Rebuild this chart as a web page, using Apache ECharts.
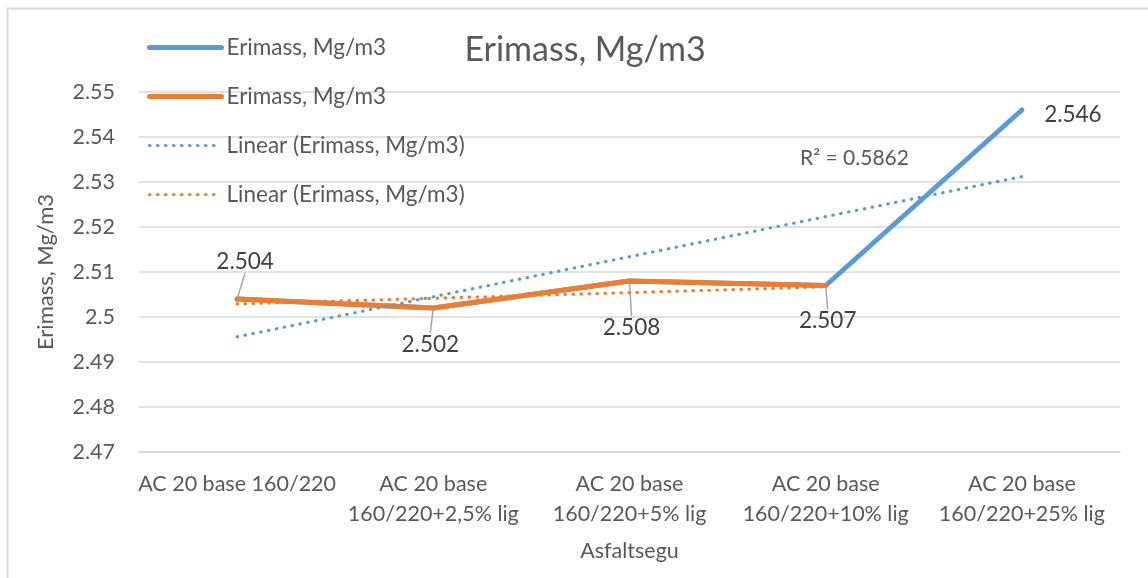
<!DOCTYPE html>
<html>
<head>
<meta charset="utf-8">
<title>Erimass, Mg/m3</title>
<script src="https://cdn.jsdelivr.net/npm/echarts@6/dist/echarts.min.js"></script>
<style>
  html, body { margin: 0; padding: 0; background: #fff; }
  #chart { width: 1148px; height: 578px; }
</style>
</head>
<body>
<div id="chart"></div>
<script>
// Mixture names (x-axis tick labels)
const categories = [
  'AC 20 base 160/220',
  'AC 20 base\n160/220+2,5% lig',
  'AC 20 base\n160/220+5% lig',
  'AC 20 base\n160/220+10% lig',
  'AC 20 base\n160/220+25% lig'
];
// Bulk density, Mg/m3
const densityAll = [2.504, 2.502, 2.508, 2.507, 2.546];
const densityLow = [2.504, 2.502, 2.508, 2.507];
// Linear trend end values (first and last category of each series)
const trendAll = [2.4956, 2.5312];
const trendLow = [2.5029, 2.5067];
const rSquaredText = 'R² = 0.5862';
// Y-axis range
const yMin = 2.47, yMax = 2.55, yStep = 0.01;

const FONT = 'Lato';
const TXT = '#595959';
const BLUE = '#5B9BD5';
const ORANGE = '#ED7D31';
const CLEAR = 'rgba(0,0,0,0)';
const seriesName = 'Erimass, Mg/m3';
const trendName = 'Linear (Erimass, Mg/m3)';

// Data label offsets (dx, dy) from the default 'top' placement
const labelOffsets = [[8, -25], [-3, 49], [2, 59], [2, 48], [51, 17]];
// Leader line shown for each data label
const labelLeaders = [true, true, true, true, false];

const chart = echarts.init(document.getElementById('chart'), null, { renderer: 'canvas' });

const solid = (color) => ({ color, width: 5, cap: 'round', join: 'round' });
const dotted = (color) => ({ color, width: 3.2, type: [0.5, 7.5], cap: 'round' });

chart.setOption({
  animation: false,
  textStyle: { fontFamily: FONT },
  title: {
    text: 'Erimass, Mg/m3',
    left: 580, top: 28, textAlign: 'center',
    textStyle: { fontFamily: FONT, fontSize: 34, fontWeight: 'normal', color: TXT }
  },
  graphic: [{
    type: 'rect', left: 5, top: 6, z: -10,
    shape: { width: 1160, height: 590 },
    style: { fill: 'none', stroke: '#d9d9d9', lineWidth: 2 }
  }, {
    type: 'text', left: 800, top: 148,
    style: { text: rSquaredText, fill: TXT, font: '21px ' + FONT }
  }],
  legend: {
    orient: 'vertical', left: 142, top: 31,
    itemWidth: 72, itemHeight: 14, itemGap: 26,
    textStyle: { fontFamily: FONT, fontSize: 22.5, color: TXT },
    itemStyle: { color: CLEAR, borderWidth: 0 },
    data: [
      { name: seriesName + ' ', itemStyle: { color: CLEAR }, lineStyle: solid(BLUE) },
      { name: seriesName, itemStyle: { color: CLEAR }, lineStyle: solid(ORANGE) },
      { name: trendName + ' ', itemStyle: { color: CLEAR }, lineStyle: dotted(BLUE) },
      { name: trendName, itemStyle: { color: CLEAR }, lineStyle: dotted(ORANGE) }
    ],
    formatter: (n) => n.trim()
  },
  grid: { left: 139, right: 28, top: 92, bottom: 126, containLabel: false },
  xAxis: {
    type: 'category', data: categories, boundaryGap: true,
    name: 'Asfaltsegu', nameLocation: 'middle', nameGap: 88,
    nameTextStyle: { fontFamily: FONT, fontSize: 21.5, color: TXT },
    axisLine: { show: true, lineStyle: { color: '#d9d9d9', width: 1.5 } },
    axisTick: { show: false },
    axisLabel: { fontFamily: FONT, fontSize: 21.5, color: TXT, lineHeight: 30, margin: 17, interval: 0 }
  },
  yAxis: {
    type: 'value', min: yMin, max: yMax, interval: yStep,
    name: 'Erimass, Mg/m3', nameLocation: 'middle', nameGap: 82,
    nameTextStyle: { fontFamily: FONT, fontSize: 22, color: TXT },
    axisLine: { show: false }, axisTick: { show: false },
    axisLabel: { fontFamily: FONT, fontSize: 21.5, color: TXT, margin: 24,
      formatter: (v) => String(+v.toFixed(2)) },
    splitLine: { lineStyle: { color: '#d9d9d9', width: 1.5 } }
  },
  series: [
    {
      name: seriesName + ' ', type: 'line',
      data: densityAll.map((v, i) => ({ value: v, labelLine: { show: labelLeaders[i] } })),
      symbol: 'circle', symbolSize: 2, showSymbol: true, z: 2,
      lineStyle: solid(BLUE),
      itemStyle: { color: CLEAR, borderWidth: 0 },
      label: {
        show: true, position: 'top', distance: 0,
        fontFamily: FONT, fontSize: 22.5, color: '#404040',
        formatter: (p) => p.value.toFixed(3)
      },
      labelLayout: (p) => ({ dx: labelOffsets[p.dataIndex][0], dy: labelOffsets[p.dataIndex][1] }),
      labelLine: { show: true, lineStyle: { color: '#a6a6a6', width: 1.5 } }
    },
    {
      name: seriesName, type: 'line', data: densityLow,
      symbol: 'none', z: 3,
      lineStyle: solid(ORANGE),
      itemStyle: { color: CLEAR, borderWidth: 0 }
    },
    {
      name: trendName + ' ', type: 'line',
      data: [[0, trendAll[0]], [categories.length - 1, trendAll[1]]],
      symbol: 'none', z: 4, silent: true,
      lineStyle: dotted(BLUE), itemStyle: { color: CLEAR, borderWidth: 0 }
    },
    {
      name: trendName, type: 'line',
      data: [[0, trendLow[0]], [densityLow.length - 1, trendLow[1]]],
      symbol: 'none', z: 4, silent: true,
      lineStyle: dotted(ORANGE), itemStyle: { color: CLEAR, borderWidth: 0 }
    }
  ]
});
</script>
</body>
</html>
